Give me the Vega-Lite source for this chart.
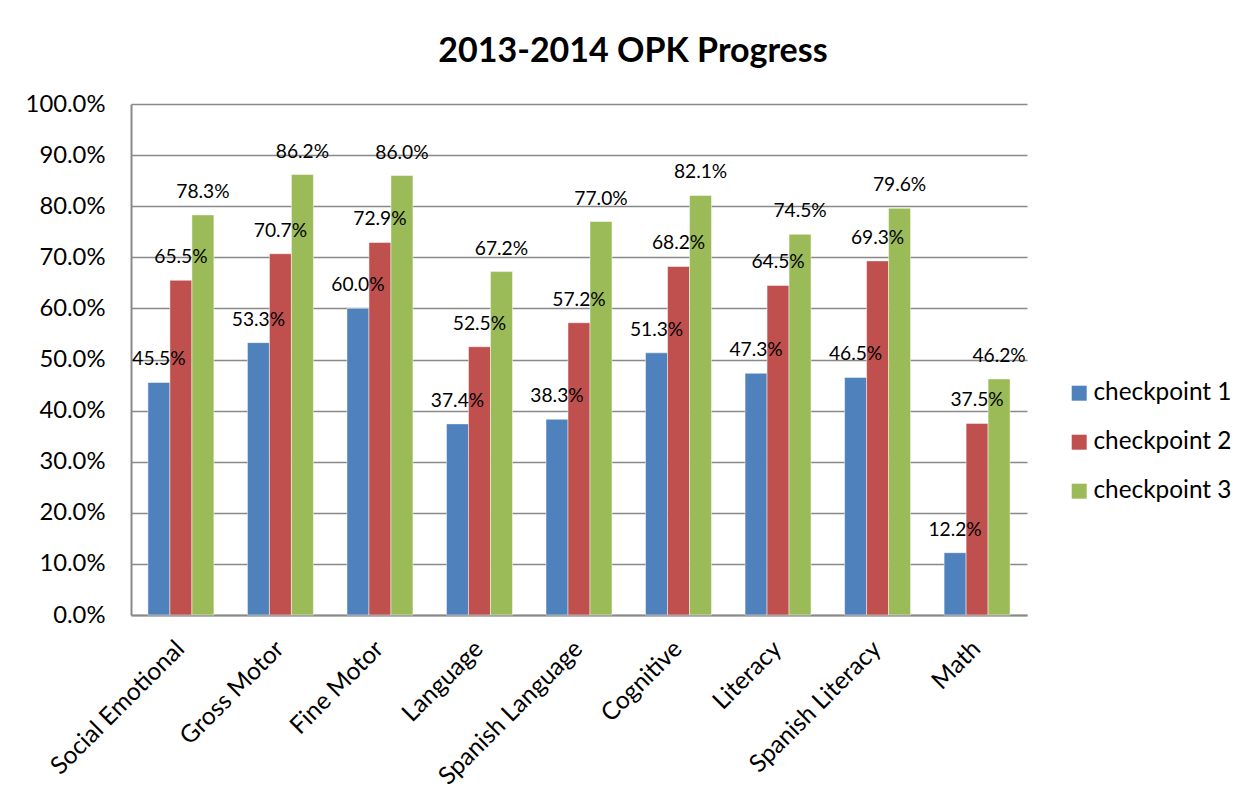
{
  "$schema": "https://vega.github.io/schema/vega-lite/v6.json",
  "autosize": "none",
  "width": 896,
  "height": 511,
  "padding": {"left": 131, "top": 104, "right": 227, "bottom": 191},
  "background": "white",
  "title": {
    "text": "2013-2014 OPK Progress",
    "font": "Lato",
    "fontSize": 34,
    "fontWeight": "bold",
    "color": "#000000",
    "anchor": "middle",
    "dx": 54,
    "offset": 23
  },
  "data": {
    "values": [
      {"area": "Social Emotional", "checkpoint": "checkpoint 1", "value": 0.455},
      {"area": "Social Emotional", "checkpoint": "checkpoint 2", "value": 0.655},
      {"area": "Social Emotional", "checkpoint": "checkpoint 3", "value": 0.783},
      {"area": "Gross Motor", "checkpoint": "checkpoint 1", "value": 0.533},
      {"area": "Gross Motor", "checkpoint": "checkpoint 2", "value": 0.707},
      {"area": "Gross Motor", "checkpoint": "checkpoint 3", "value": 0.862},
      {"area": "Fine Motor", "checkpoint": "checkpoint 1", "value": 0.600},
      {"area": "Fine Motor", "checkpoint": "checkpoint 2", "value": 0.729},
      {"area": "Fine Motor", "checkpoint": "checkpoint 3", "value": 0.860},
      {"area": "Language", "checkpoint": "checkpoint 1", "value": 0.374},
      {"area": "Language", "checkpoint": "checkpoint 2", "value": 0.525},
      {"area": "Language", "checkpoint": "checkpoint 3", "value": 0.672},
      {"area": "Spanish Language", "checkpoint": "checkpoint 1", "value": 0.383},
      {"area": "Spanish Language", "checkpoint": "checkpoint 2", "value": 0.572},
      {"area": "Spanish Language", "checkpoint": "checkpoint 3", "value": 0.770},
      {"area": "Cognitive", "checkpoint": "checkpoint 1", "value": 0.513},
      {"area": "Cognitive", "checkpoint": "checkpoint 2", "value": 0.682},
      {"area": "Cognitive", "checkpoint": "checkpoint 3", "value": 0.821},
      {"area": "Literacy", "checkpoint": "checkpoint 1", "value": 0.473},
      {"area": "Literacy", "checkpoint": "checkpoint 2", "value": 0.645},
      {"area": "Literacy", "checkpoint": "checkpoint 3", "value": 0.745},
      {"area": "Spanish Literacy", "checkpoint": "checkpoint 1", "value": 0.465},
      {"area": "Spanish Literacy", "checkpoint": "checkpoint 2", "value": 0.693},
      {"area": "Spanish Literacy", "checkpoint": "checkpoint 3", "value": 0.796},
      {"area": "Math", "checkpoint": "checkpoint 1", "value": 0.122},
      {"area": "Math", "checkpoint": "checkpoint 2", "value": 0.375},
      {"area": "Math", "checkpoint": "checkpoint 3", "value": 0.462}
    ]
  },
  "encoding": {
    "x": {
      "field": "area",
      "type": "nominal",
      "sort": null,
      "scale": {"paddingInner": 0.337, "paddingOuter": 0.17},
      "axis": {
        "title": null,
        "labelAngle": -45,
        "labelAlign": "right",
        "labelBaseline": "middle",
        "labelFont": "Lato",
        "labelFontSize": 24.5,
        "labelColor": "#000000",
        "labelPadding": 30,
        "labelLimit": 400,
        "ticks": false,
        "domainColor": "#898989",
        "domainWidth": 2
      }
    },
    "xOffset": {"field": "checkpoint", "type": "nominal", "sort": null},
    "y": {
      "field": "value",
      "type": "quantitative",
      "scale": {"domain": [0, 1], "nice": false},
      "axis": {
        "title": null,
        "format": ".1%",
        "values": [0, 0.1, 0.2, 0.3, 0.4, 0.5, 0.6, 0.7, 0.8, 0.9, 1.0],
        "labelFont": "Lato",
        "labelFontSize": 23.8,
        "labelColor": "#000000",
        "labelPadding": 26,
        "ticks": false,
        "grid": true,
        "gridColor": "#898989",
        "gridWidth": 1.5,
        "domainColor": "#898989",
        "domainWidth": 2
      }
    }
  },
  "layer": [
    {
      "mark": {"type": "bar", "stroke": "#ffffff", "strokeWidth": 0.8, "strokeOpacity": 0.6},
      "encoding": {
        "color": {
          "field": "checkpoint",
          "type": "nominal",
          "scale": {"domain": ["checkpoint 1", "checkpoint 2", "checkpoint 3"], "range": ["#4F81BD", "#C0504D", "#9BBB59"]},
          "legend": {
            "title": null,
            "orient": "none",
            "legendX": 936,
            "legendY": 277,
            "symbolType": "square",
            "symbolSize": 225,
            "symbolStrokeWidth": 0,
            "labelFont": "Lato",
            "labelFontSize": 24.4,
            "labelColor": "#000000",
            "labelOffset": 2,
            "rowPadding": 24
          }
        }
      }
    },
    {
      "mark": {"type": "text", "baseline": "alphabetic", "dy": -17, "font": "Lato", "fontSize": 19.2, "color": "#000000"},
      "encoding": {
        "text": {"field": "value", "type": "quantitative", "format": ".1%"}
      }
    }
  ],
  "config": {
    "view": {"stroke": null}
  }
}
